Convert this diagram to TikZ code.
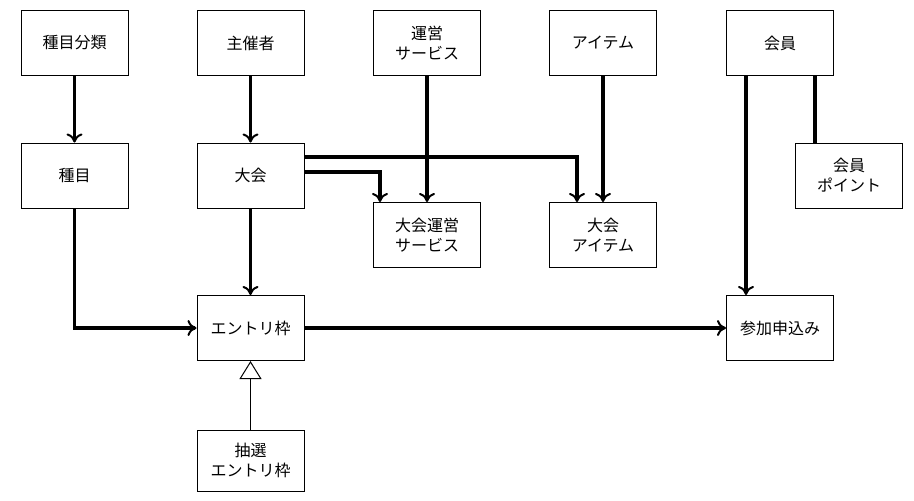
\documentclass[tikz,border=0pt]{standalone}
\usepackage{fontspec}
\newfontfamily\cjk{Noto Sans CJK JP}
\usetikzlibrary{arrows.meta}
\begin{document}
\begin{tikzpicture}[x=1pt,y=-1pt,
  box/.style={draw,line width=1pt,minimum width=107pt,minimum height=65pt,align=center,font=\cjk\fontsize{16}{20}\selectfont,inner sep=1pt},
  rel/.style={line width=3.4pt,-{To[length=9pt,width=16pt,line width=2pt]}},
  plain/.style={line width=3.4pt}]
\useasboundingbox (0,0) rectangle (914,501);
\node[box] (shumokubunrui) at (74.5,43) {種目分類};
\node[box] (shusai) at (250.5,43) {主催者};
\node[box] (unei) at (427,43) {運営\\サービス};
\node[box] (item) at (603,43) {アイテム};
\node[box] (kaiin) at (780,43) {会員};
\node[box] (shumoku) at (74.5,175.5) {種目};
\node[box] (taikai) at (250.5,175.5) {大会};
\node[box] (tunei) at (427,235) {大会運営\\サービス};
\node[box] (titem) at (603,235) {大会\\アイテム};
\node[box] (point) at (849,175.5) {会員\\ポイント};
\node[box] (entry) at (250.5,328) {エントリ枠};
\node[box] (moushi) at (780,328) {参加申込み};
\node[box,minimum height=61pt] (chusen) at (250.5,460.5) {抽選\\エントリ枠};
\draw[rel] (shumokubunrui) -- (shumoku);
\draw[rel] (shusai) -- (taikai);
\draw[rel] (unei) -- (tunei);
\draw[rel] (item) -- (titem);
\draw[rel] (kaiin.south -| 746,0) -- (moushi.north -| 746,0);
\draw[plain] (kaiin.south -| 815,0) -- (point.north -| 815,0);
\draw[rel] (taikai.east |- 0,172) -| (tunei.north -| 380,0);
\draw[rel] (taikai.east |- 0,157) -| (titem.north -| 577,0);
\draw[rel] (taikai) -- (entry);
\draw[rel] (shumoku) |- (entry);
\draw[rel] (entry) -- (moushi);
\draw[line width=1pt,-{Triangle[open,length=18pt,width=22pt]}] (chusen) -- (entry);
\end{tikzpicture}
\end{document}
